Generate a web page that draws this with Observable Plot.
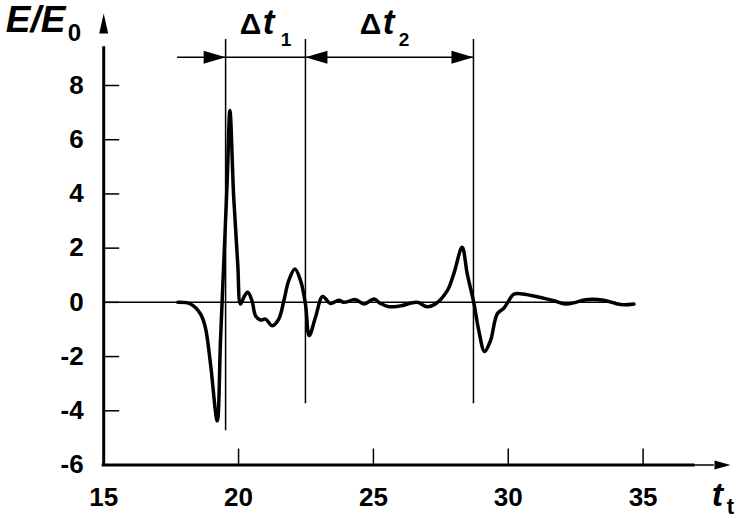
<!DOCTYPE html>
<html>
<head>
<meta charset="utf-8">
<script src="https://cdn.jsdelivr.net/npm/d3@7"></script>
<script src="https://cdn.jsdelivr.net/npm/@observablehq/plot@0.6"></script>
<style>
  html, body { margin: 0; padding: 0; background: #fff; }
  #chart svg { display: block; overflow: visible; }
</style>
</head>
<body>
<div id="chart"></div>
<script>
// ---- data ----
const tVals = [17.75, 18.22, 18.59, 18.77, 18.96, 19.21, 19.33, 19.45, 19.58, 19.68, 19.82, 19.97, 20.07, 20.20, 20.34, 20.50, 20.63, 20.81, 21.00, 21.25, 21.49, 21.68, 21.86, 22.09, 22.30, 22.48, 22.62, 22.85, 23.12, 23.40, 23.72, 23.90, 24.34, 24.65, 25.02, 25.26, 25.57, 26.00, 26.62, 26.99, 27.30, 27.74, 27.98, 28.29, 28.48, 28.72, 28.91, 29.12, 29.34, 29.59, 29.84, 30.02, 30.20, 30.52, 31.20, 31.69, 32.12, 32.50, 32.87, 33.54, 33.98, 34.28, 34.66];
const eVals = [0.00, -0.06, -0.43, -0.93, -2.27, -4.37, -1.42, 1.41, 4.49, 7.08, 3.88, 1.41, -0.06, 0.20, 0.37, 0.06, -0.50, -0.65, -0.62, -0.86, -0.62, 0.06, 0.80, 1.23, 0.80, -0.06, -1.23, -0.56, 0.22, -0.04, 0.08, 0.00, 0.10, -0.06, 0.12, -0.04, -0.16, -0.13, 0.00, -0.16, -0.06, 0.43, 1.05, 2.03, 1.05, 0.00, -1.05, -1.81, -1.42, -0.43, -0.21, 0.06, 0.30, 0.31, 0.18, 0.06, -0.06, 0.00, 0.10, 0.08, -0.04, -0.09, -0.06];
const xTicks = [15, 20, 25, 30, 35];
const yTicks = [-6, -4, -2, 0, 2, 4, 6, 8];
const markerX = [19.52, 22.48, 28.71];
const markerBottom = [-4.74, -3.74, -3.74];
const markerTop = 9.7;
const arrowLineY = 9.04;
const arrowLineStart = 17.74;
const zeroLineEnd = 34.0;

// ---- layout ----
const W = 738, H = 519;
const mL = 103.2, mR = 95.4, mT = 85, mB = 54.5;
const xDom = [15, 35], yDom = [-6, 8];
const pxPerX = (W - mL - mR) / (xDom[1] - xDom[0]);
const pxPerY = (H - mT - mB) / (yDom[1] - yDom[0]);
const tickLenX = 16 / pxPerY; // in y units
const tickLenY = 16 / pxPerX; // in x units
const xAxisEnd = xDom[0] + (730 - mL) / pxPerX;
const yAxisEnd = yDom[1] + (mT - 13) / pxPerY;

const curve = tVals.map((t, i) => ({t, e: eVals[i]}));
const markers = markerX.map((x, i) => ({x, y1: markerBottom[i], y2: markerTop}));

function tri(L, Hh, dir) {
  return {draw(ctx) {
    if (dir === "right") { ctx.moveTo(0, 0); ctx.lineTo(-L, -Hh); ctx.lineTo(-L, Hh); }
    else if (dir === "left") { ctx.moveTo(0, 0); ctx.lineTo(L, -Hh); ctx.lineTo(L, Hh); }
    else { ctx.moveTo(0, 0); ctx.lineTo(-Hh, L); ctx.lineTo(Hh, L); }
    ctx.closePath();
  }};
}
const font = "'Liberation Sans', Arial, sans-serif";

const chart = Plot.plot({
  width: W, height: H,
  marginLeft: mL, marginRight: mR, marginTop: mT, marginBottom: mB,
  x: {domain: xDom, axis: null},
  y: {domain: yDom, axis: null},
  style: {fontFamily: font, background: "#fff", color: "#000"},
  marks: [
    // zero line
    Plot.ruleY([0], {x1: xDom[0], x2: zeroLineEnd, stroke: "#000", strokeWidth: 1.5}),
    // axes
    Plot.ruleX([xDom[0]], {y1: yDom[0], y2: yAxisEnd - 1.3, stroke: "#000", strokeWidth: 1.5}),
    Plot.ruleX([xDom[0]], {y1: yDom[0], y2: yDom[1] + 1.37, stroke: "#000", strokeWidth: 3, strokeLinecap: "square"}),
    Plot.ruleY([yDom[0]], {x1: xDom[0], x2: xAxisEnd - 0.6, stroke: "#000", strokeWidth: 1.5}),
    Plot.ruleY([yDom[0]], {x1: xDom[0], x2: 36.87, stroke: "#000", strokeWidth: 3, strokeLinecap: "square"}),
    Plot.dot([{x: xDom[0], y: yAxisEnd}], {x: "x", y: "y", r: 5, symbol: tri(20, 4.5, "up"), fill: "#000", stroke: "none"}),
    Plot.dot([{x: xAxisEnd, y: yDom[0]}], {x: "x", y: "y", r: 5, symbol: tri(16, 4.5, "right"), fill: "#000", stroke: "none"}),
    // ticks (inward)
    Plot.ruleX(xTicks.slice(1), {x: d => d, y1: yDom[0], y2: yDom[0] + tickLenX, stroke: "#000", strokeWidth: 1.5}),
    Plot.ruleY(yTicks.slice(1), {y: d => d, x1: xDom[0], x2: xDom[0] + tickLenY, stroke: "#000", strokeWidth: 1.5}),
    // tick labels
    Plot.text(xTicks, {x: d => d, y: yDom[0], text: d => String(d), lineAnchor: "top", dy: 22.5, fontSize: 26, fontWeight: "bold", fill: "#000"}),
    Plot.text(yTicks, {x: xDom[0], y: d => d, text: d => String(d), textAnchor: "end", dx: -20, fontSize: 26, fontWeight: "bold", fill: "#000"}),
    // marker verticals
    Plot.ruleX(markers, {x: "x", y1: "y1", y2: "y2", stroke: "#000", strokeWidth: 1.5}),
    // horizontal dimension line
    Plot.ruleY([arrowLineY], {x1: arrowLineStart, x2: markerX[2], stroke: "#000", strokeWidth: 1.5}),
    Plot.dot([markerX[0], markerX[2]], {x: d => d, y: arrowLineY, r: 5, symbol: tri(22, 6.5, "right"), fill: "#000", stroke: "none"}),
    Plot.dot([markerX[1]], {x: d => d, y: arrowLineY, r: 5, symbol: tri(22, 6.5, "left"), fill: "#000", stroke: "none"}),
    // curve
    Plot.line(curve, {x: "t", y: "e", stroke: "#000", strokeWidth: 3.5, curve: "catmull-rom", strokeLinejoin: "round", strokeLinecap: "round"}),
    // axis titles
    Plot.text(["E/E"], {frameAnchor: "top-left", dx: -98, dy: -80, text: d => d, textAnchor: "start", lineAnchor: "top", fontSize: 37, fontWeight: "bold", fontStyle: "italic", fill: "#000"}),
    Plot.text(["0"], {frameAnchor: "top-left", dx: -36, dy: -45, text: d => d, textAnchor: "start", lineAnchor: "bottom", fontSize: 24, fontWeight: "bold", fill: "#000"}),
    Plot.text(["t"], {frameAnchor: "bottom-left", dx: 608, dy: 41, text: d => d, textAnchor: "start", lineAnchor: "bottom", fontSize: 34, fontWeight: "bold", fontStyle: "italic", fill: "#000"}),
    Plot.text(["t"], {frameAnchor: "bottom-left", dx: 623, dy: 49, text: d => d, textAnchor: "start", lineAnchor: "bottom", fontSize: 22, fontWeight: "bold", fill: "#000"}),
    // Δt labels
    Plot.text(["Δ"], {frameAnchor: "top-left", dx: 136, dy: -52, text: d => d, textAnchor: "start", lineAnchor: "bottom", fontSize: 30, fontWeight: "bold", fill: "#000"}),
    Plot.text(["t"], {frameAnchor: "top-left", dx: 159, dy: -52, text: d => d, textAnchor: "start", lineAnchor: "bottom", fontSize: 35, fontWeight: "bold", fontStyle: "italic", fill: "#000"}),
    Plot.text(["1"], {frameAnchor: "top-left", dx: 177, dy: -40, text: d => d, textAnchor: "start", lineAnchor: "bottom", fontSize: 19, fontWeight: "bold", fill: "#000"}),
    Plot.text(["Δ"], {frameAnchor: "top-left", dx: 256, dy: -52, text: d => d, textAnchor: "start", lineAnchor: "bottom", fontSize: 30, fontWeight: "bold", fill: "#000"}),
    Plot.text(["t"], {frameAnchor: "top-left", dx: 279, dy: -52, text: d => d, textAnchor: "start", lineAnchor: "bottom", fontSize: 35, fontWeight: "bold", fontStyle: "italic", fill: "#000"}),
    Plot.text(["2"], {frameAnchor: "top-left", dx: 295, dy: -40, text: d => d, textAnchor: "start", lineAnchor: "bottom", fontSize: 19, fontWeight: "bold", fill: "#000"})
  ]
});
document.getElementById("chart").appendChild(chart);
</script>
</body>
</html>
